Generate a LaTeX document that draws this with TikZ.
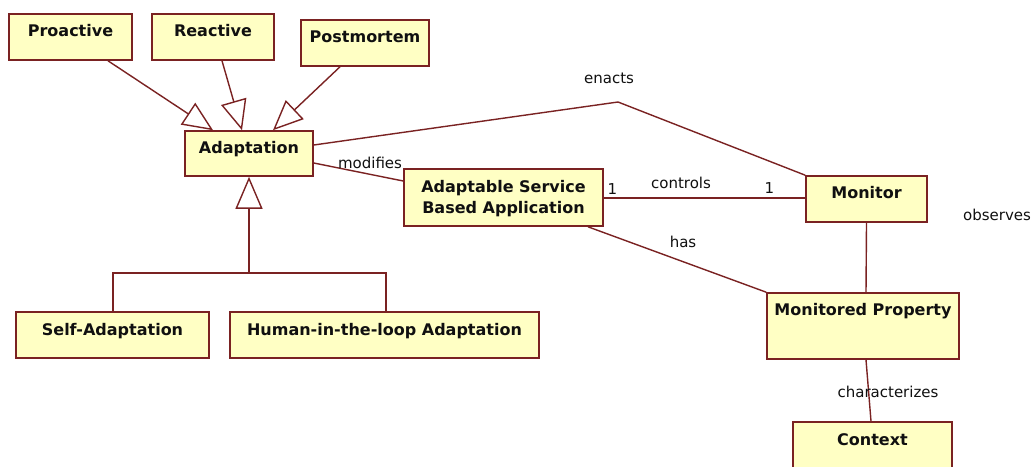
\documentclass[tikz,border=0pt]{standalone}
\usepackage{fontspec}
\setmainfont{DejaVu Sans}
\usetikzlibrary{arrows.meta,calc}
\definecolor{umlline}{RGB}{122,34,34}
\definecolor{umlfill}{RGB}{255,255,196}
\definecolor{umltext}{RGB}{16,16,16}
\begin{document}
\begin{tikzpicture}[x=1pt,y=-1pt,
  box/.style={draw=umlline, fill=umlfill, line width=1.6pt, inner sep=0pt},
  title/.style={anchor=base, text=umltext, font=\bfseries\fontsize{16}{21}\selectfont, inner sep=0pt},
  assoc/.style={draw=umlline, line width=1.4pt},
  gen/.style={assoc, -{Triangle[open, length=30pt, width=26pt, fill=white]}},
  lbl/.style={anchor=base, text=umltext, font=\fontsize{15}{18}\selectfont, inner sep=0pt}
]
\fill[white] (0,0) rectangle (1035,466);
\useasboundingbox (0,0) rectangle (1035,466);

% classes
\node[box, minimum width=123pt, minimum height=46pt] (proactive) at (70.5,37) {};
\node[box, minimum width=122pt, minimum height=46pt] (reactive) at (213,37) {};
\node[box, minimum width=128pt, minimum height=46pt] (postmortem) at (365,43) {};
\node[box, minimum width=128pt, minimum height=45pt] (adapt) at (249,153.5) {};
\node[box, minimum width=199pt, minimum height=57pt] (asba) at (503.5,197.5) {};
\node[box, minimum width=121pt, minimum height=46pt] (monitor) at (866.5,199) {};
\node[box, minimum width=192pt, minimum height=66pt] (mprop) at (863,326) {};
\node[box, minimum width=159pt, minimum height=50pt] (context) at (872.5,447) {};
\node[box, minimum width=193pt, minimum height=46pt] (selfad) at (112.5,335) {};
\node[box, minimum width=309pt, minimum height=46pt] (human) at (384.5,335) {};

% class names
\node[title] (proactive-t) at ([yshift=-23pt]proactive.north) {Proactive};
\node[title] (reactive-t) at ([yshift=-23pt]reactive.north) {Reactive};
\node[title] (postmortem-t) at ([yshift=-23pt]postmortem.north) {Postmortem};
\node[title] (adapt-t) at ([yshift=-23pt]adapt.north) {Adaptation};
\node[title, anchor=center, align=center] (asba-t) at ([yshift=-30pt]asba.north) {Adaptable Service\\Based Application};
\node[title] (monitor-t) at ([yshift=-23pt]monitor.north) {Monitor};
\node[title] (mprop-t) at ([yshift=-23pt]mprop.north) {Monitored Property};
\node[title] (context-t) at ([yshift=-24pt]context.north) {Context};
\node[title] (selfad-t) at ([yshift=-24pt]selfad.north) {Self-Adaptation};
\node[title] (human-t) at ([yshift=-24pt]human.north) {Human-in-the-loop Adaptation};

% generalisations into Adaptation
\draw[gen] ([xshift=37.5pt]proactive.south) -- ([xshift=-36pt]adapt.north);
\draw[gen] ([xshift=9pt]reactive.south) -- ([xshift=-7pt]adapt.north);
\draw[gen] ([xshift=-25pt]postmortem.south) -- ([xshift=24pt]adapt.north);

\coordinate (branch) at (249,273);
\draw[assoc, -{Triangle[open, length=32pt, width=27pt, fill=white]}] (branch) -- (adapt.south);
\draw[assoc] ([xshift=0.5pt]selfad.north) |- (branch) -| ([xshift=1.5pt]human.north);

% associations
\coordinate (enactsbend) at (618,102);
\draw[assoc] ([yshift=8.5pt]adapt.east) -- (enactsbend) -- (monitor.north west);
\draw[assoc] ([yshift=-9.5pt]adapt.east) -- ([yshift=16.5pt]asba.west);
\draw[assoc] ([yshift=-0.5pt]asba.east) -- ([yshift=1pt]monitor.west);
\draw[assoc] ([xshift=84.5pt]asba.south) -- (mprop.north west);
\draw[assoc] (monitor.south) -- ([xshift=3pt]mprop.north);
\draw[assoc] ([xshift=3pt]mprop.south) -- ([xshift=-1.5pt]context.north);

% association labels
\node[lbl] (l-enacts) at (609,83) {enacts};
\node[lbl] (l-modifies) at (370,168) {modifies};
\node[lbl] (l-controls) at (681,188) {controls};
\node[lbl] (l-one-a) at (612.5,194) {1};
\node[lbl] (l-one-b) at (769.5,193) {1};
\node[lbl] (l-has) at (683,247) {has};
\node[lbl] (l-observes) at (997,220) {observes};
\node[lbl] (l-char) at (888,397) {characterizes};
\end{tikzpicture}
\end{document}
